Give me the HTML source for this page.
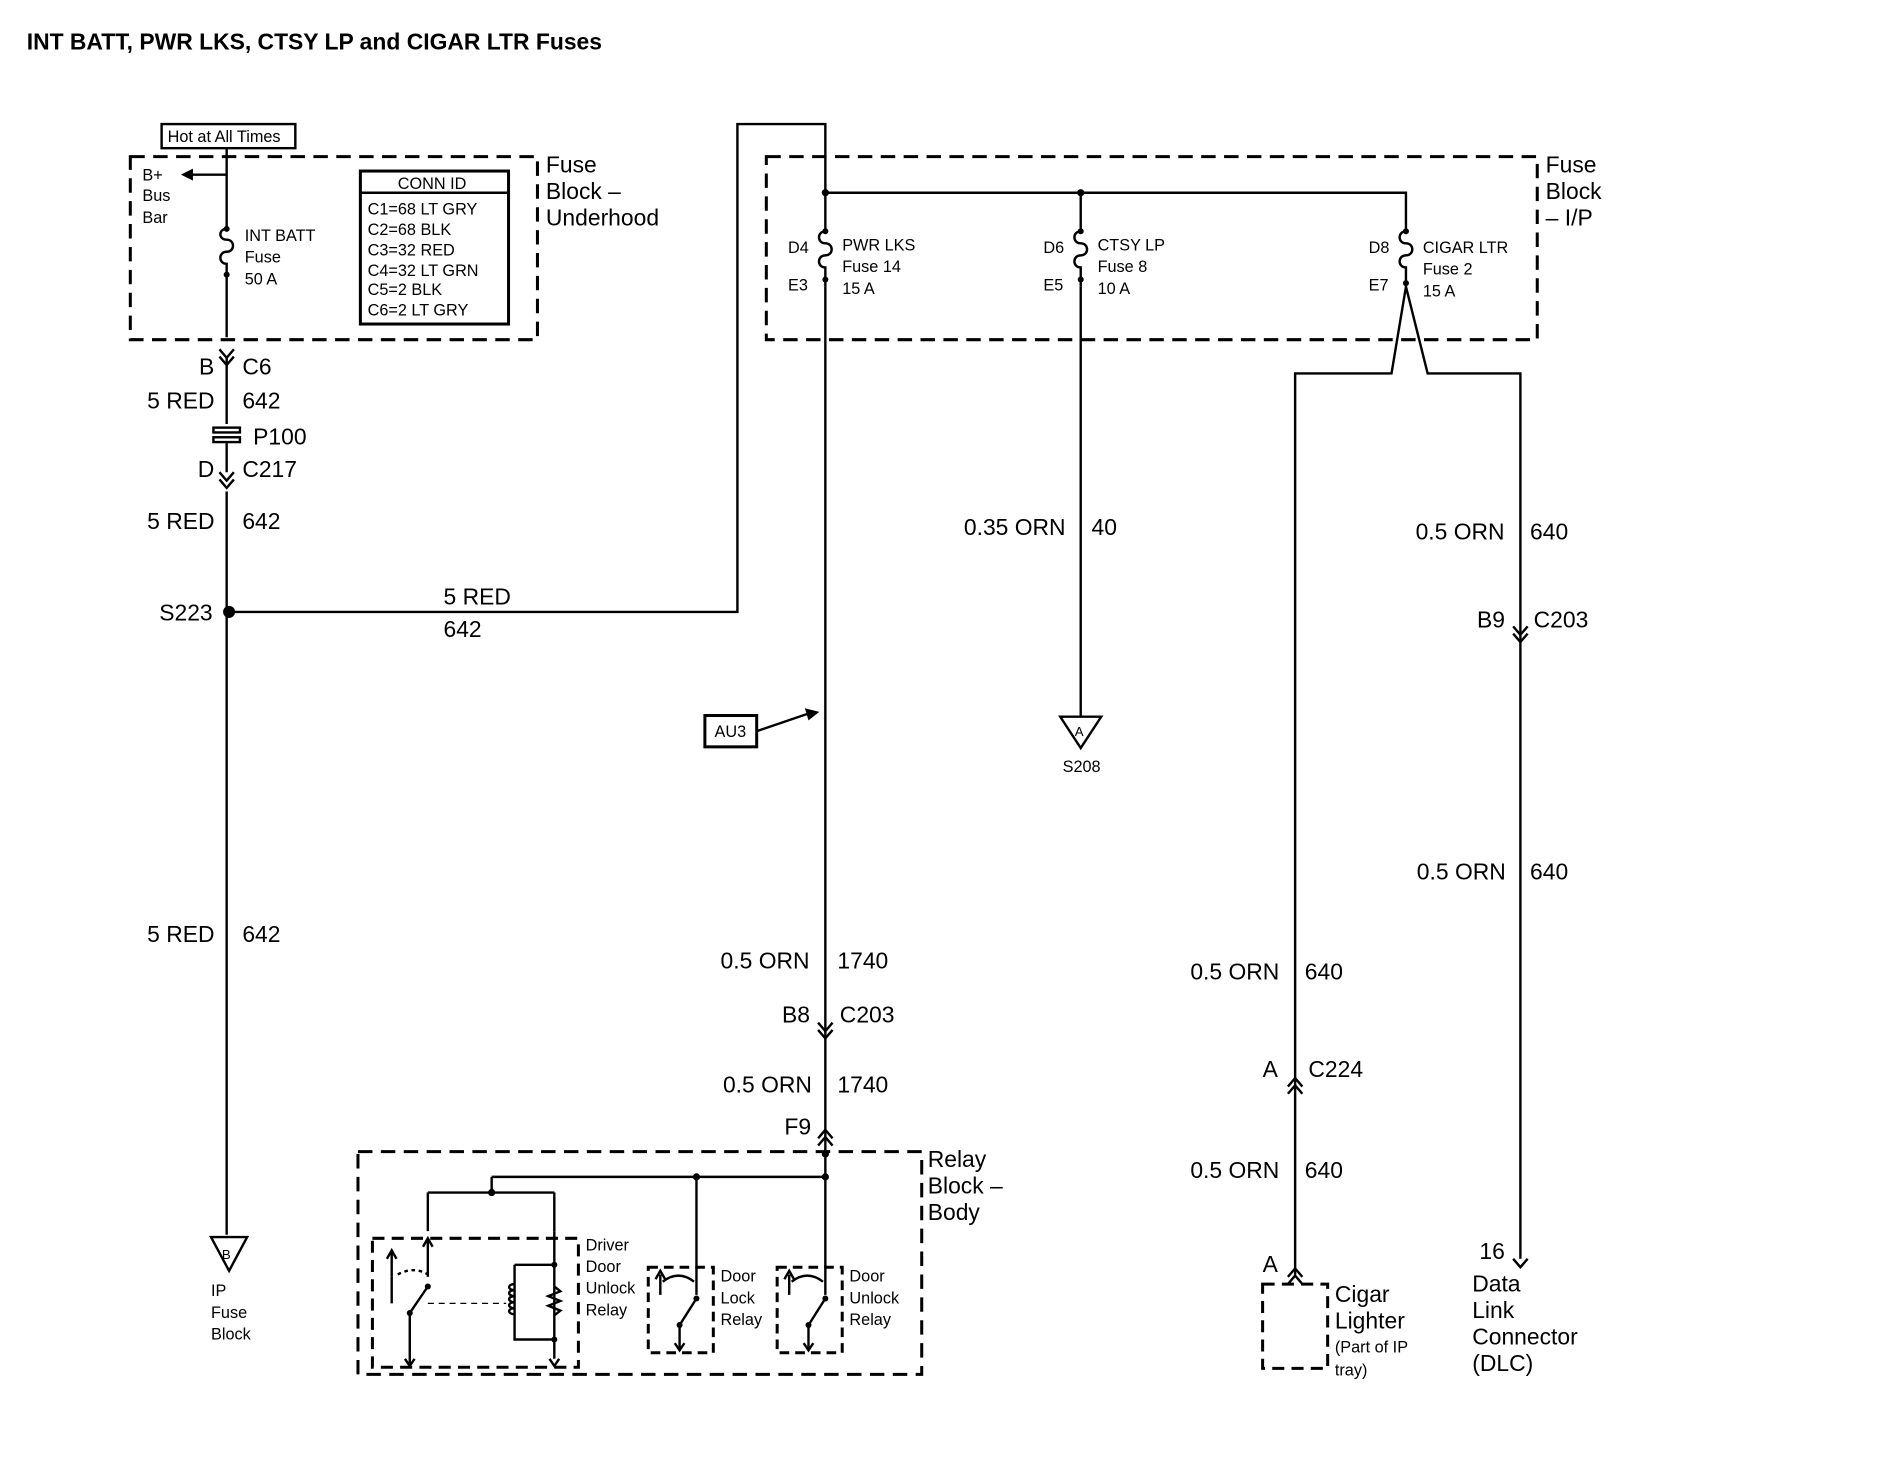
<!DOCTYPE html>
<html><head><meta charset="utf-8"><style>
html,body{margin:0;padding:0;background:#fff}
svg{display:block}
text{font-family:"Liberation Sans",Arial,sans-serif;fill:#000}
.t{font-size:19px}
.s{font-size:13.5px}
.x{font-size:11px}
</style></head><body>
<svg width="1888" height="1472" viewBox="0 0 1567 1222" xmlns="http://www.w3.org/2000/svg">
<g fill="none" stroke="#000" stroke-width="2">
<rect x="108" y="130" width="338" height="152" stroke-dasharray="12,7" stroke-width="2.5"/>
<rect x="636" y="130" width="640" height="152" stroke-dasharray="12,7" stroke-width="2.5"/>
<rect x="297" y="956" width="468" height="185" stroke-dasharray="12,7" stroke-width="2.5"/>
<rect x="309" y="1028" width="171" height="107" stroke-dasharray="10,6" stroke-width="2.5"/>
<rect x="538" y="1052" width="54" height="71" stroke-dasharray="8,5" stroke-width="2.5"/>
<rect x="645" y="1052" width="54" height="71" stroke-dasharray="8,5" stroke-width="2.5"/>
<rect x="1048" y="1066" width="54" height="70" stroke-dasharray="10,6" stroke-width="2.5"/>
<rect x="134" y="103" width="111" height="20"/>
<rect x="299" y="142" width="123" height="127" stroke-width="2.5"/>
<line x1="299" y1="160" x2="422" y2="160"/>
<rect x="585" y="594" width="43" height="26" stroke-width="2.5"/>
<path d="M188 123 V190 M188 228 V280 M188 296 V352 M188 368 V392 M188 408 V1025"/>
<path d="M188 145 H158"/>
<path d="M190 508 H612 V103 H685 V160"/>
<path d="M685 160 H1167 V192 M897 160 V192 M685 160 V192"/>
<path d="M685 238 V945 M897 238 V595"/>
<path d="M1167 238 L1155 310 H1075 V1058 M1167 238 L1185 310 H1262 V1045"/>
<path d="M685 945 V1052 M408 977 H685 M408 977 V990 M355 990 H460 M355 990 V1022 M460 990 V1022 M578 977 V1052"/>
<path d="M628 607 L672 592"/>
<path d="M175 1027 H205 L190 1055 Z"/>
<path d="M880 595 H914 L897 621 Z"/>
<path d="M182 290 L188 297 L194 290 M182 296 L188 303 L194 296"/>
<path d="M182 392 L188 399 L194 392 M182 398 L188 405 L194 398"/>
<path d="M679 849 L685 856 L691 849 M679 855 L685 862 L691 855"/>
<path d="M679 945 L685 938 L691 945 M679 951 L685 944 L691 951"/>
<path d="M1256 520 L1262 527 L1268 520 M1256 526 L1262 533 L1268 526"/>
<path d="M1069 902 L1075 895 L1081 902 M1069 908 L1075 901 L1081 908"/>
<path d="M1069 1060 L1075 1053 L1081 1060 M1069 1066 L1075 1059 L1081 1066"/>
<path d="M1256 1045 L1262 1052 L1268 1045"/>
<rect x="177" y="355" width="22" height="4" fill="#fff"/><rect x="177" y="363" width="22" height="4" fill="#fff"/>
<path d="M188 190 c-7,0 -7,9 0,9 c7,0 7,10 0,10 c-7,0 -7,10 0,10 V228"/>
<path d="M685 192 c-7,0 -7,10 0,10 c7,0 7,10 0,10 c-7,0 -7,10 0,10 V238"/>
<path d="M897 192 c-7,0 -7,10 0,10 c7,0 7,10 0,10 c-7,0 -7,10 0,10 V238"/>
<path d="M1167 192 c-7,0 -7,10 0,10 c7,0 7,10 0,10 c-7,0 -7,10 0,10 V238"/>
<path d="M325 1060 V1040 M321 1045 L325 1038 L329 1045 M355 1060 V1030 M351 1035 L355 1028 L359 1035"/>
<path d="M340 1132 V1090 L355 1068 M325 1060 V1082 M336 1128 L340 1134 L344 1128"/>
<path d="M330 1058 Q345 1050 358 1060" stroke-dasharray="3,3"/>
<path d="M355 1082 H420" stroke-dasharray="5,4" stroke-width="1"/>
<path d="M460 1022 V1128 M427 1050 H460 M427 1050 V1112 H460 M456 1128 L460 1134 L464 1128"/>
<path d="M427 1066 c-6,0 -6,5 0,5 c-6,0 -6,5 0,5 c-6,0 -6,5 0,5 c-6,0 -6,5 0,5 c-6,0 -6,5 0,5"/>
<path d="M460 1068 l5,4 l-10,4 l10,4 l-10,4 l10,4 l-5,4"/>
<path d="M548 1075 V1058 M544 1062 L548 1055 L552 1062 M578 1052 V1075 M564 1120 V1100 L578 1078 M560 1115 L564 1121 L568 1115 M550 1064 Q563 1054 576 1064" />
<path d="M655 1075 V1058 M651 1062 L655 1055 L659 1062 M685 1052 V1075 M671 1120 V1100 L685 1078 M667 1115 L671 1121 L675 1115 M657 1064 Q670 1054 683 1064"/>
</g>
<g fill="#000">
<path d="M150 145 L160 140 L160 150 Z"/>
<circle cx="190" cy="508" r="5"/>
<circle cx="685" cy="160" r="3"/><circle cx="897" cy="160" r="3"/>
<circle cx="408" cy="990" r="3"/><circle cx="578" cy="977" r="3"/><circle cx="685" cy="977" r="3"/>
<circle cx="685" cy="958" r="3"/>
<circle cx="188" cy="190" r="2.5"/><circle cx="188" cy="228" r="2.5"/>
<circle cx="685" cy="192" r="2.5"/><circle cx="685" cy="232" r="2.5"/>
<circle cx="897" cy="192" r="2.5"/><circle cx="897" cy="232" r="2.5"/>
<circle cx="1167" cy="192" r="2.5"/><circle cx="1167" cy="235" r="2.5"/>
<path d="M680 591 L668 588 L671 598 Z"/>
<circle cx="355" cy="1068" r="2.5"/><circle cx="340" cy="1090" r="2.5"/><circle cx="460" cy="1050" r="2.5"/><circle cx="460" cy="1112" r="2.5"/>
<circle cx="578" cy="1078" r="2.5"/><circle cx="564" cy="1100" r="2.5"/><circle cx="685" cy="1078" r="2.5"/><circle cx="671" cy="1100" r="2.5"/>
</g>
<text x="22" y="41" style="font-size:19px;font-weight:bold">INT BATT, PWR LKS, CTSY LP and CIGAR LTR Fuses</text>
<text x="139" y="118" class="s">Hot at All Times</text>
<text x="118" y="150" class="s">B+</text><text x="118" y="167" class="s">Bus</text><text x="118" y="185" class="s">Bar</text>
<text x="203" y="200" class="s">INT BATT</text><text x="203" y="218" class="s">Fuse</text><text x="203" y="236" class="s">50 A</text>
<text x="330" y="157" class="s">CONN ID</text>
<text x="305" y="178" class="s">C1=68 LT GRY</text><text x="305" y="195" class="s">C2=68 BLK</text><text x="305" y="212" class="s">C3=32 RED</text>
<text x="305" y="229" class="s">C4=32 LT GRN</text><text x="305" y="245" class="s">C5=2 BLK</text><text x="305" y="262" class="s">C6=2 LT GRY</text>
<text x="453" y="143" class="t">Fuse</text><text x="453" y="165" class="t">Block –</text><text x="453" y="187" class="t">Underhood</text>
<text x="165" y="311" class="t">B</text><text x="201" y="311" class="t">C6</text>
<text x="122" y="339" class="t">5 RED</text><text x="201" y="339" class="t">642</text>
<text x="210" y="369" class="t">P100</text>
<text x="164" y="396" class="t">D</text><text x="201" y="396" class="t">C217</text>
<text x="122" y="439" class="t">5 RED</text><text x="201" y="439" class="t">642</text>
<text x="132" y="515" class="t">S223</text>
<text x="368" y="502" class="t">5 RED</text><text x="368" y="529" class="t">642</text>
<text x="122" y="782" class="t">5 RED</text><text x="201" y="782" class="t">642</text>
<text x="184" y="1045" class="x">B</text>
<text x="175" y="1076" class="s">IP</text><text x="175" y="1094" class="s">Fuse</text><text x="175" y="1112" class="s">Block</text>
<text x="654" y="210" class="s">D4</text><text x="654" y="241" class="s">E3</text>
<text x="699" y="208" class="s">PWR LKS</text><text x="699" y="226" class="s">Fuse 14</text><text x="699" y="244" class="s">15 A</text>
<text x="866" y="210" class="s">D6</text><text x="866" y="241" class="s">E5</text>
<text x="911" y="208" class="s">CTSY LP</text><text x="911" y="226" class="s">Fuse 8</text><text x="911" y="244" class="s">10 A</text>
<text x="1136" y="210" class="s">D8</text><text x="1136" y="241" class="s">E7</text>
<text x="1181" y="210" class="s">CIGAR LTR</text><text x="1181" y="228" class="s">Fuse 2</text><text x="1181" y="246" class="s">15 A</text>
<text x="1283" y="143" class="t">Fuse</text><text x="1283" y="165" class="t">Block</text><text x="1283" y="187" class="t">– I/P</text>
<text x="800" y="444" class="t">0.35 ORN</text><text x="906" y="444" class="t">40</text>
<text x="892" y="611" class="x">A</text><text x="882" y="641" class="s">S208</text>
<text x="593" y="612" class="s">AU3</text>
<text x="1175" y="448" class="t">0.5 ORN</text><text x="1270" y="448" class="t">640</text>
<text x="1226" y="521" class="t">B9</text><text x="1273" y="521" class="t">C203</text>
<text x="1176" y="730" class="t">0.5 ORN</text><text x="1270" y="730" class="t">640</text>
<text x="598" y="804" class="t">0.5 ORN</text><text x="695" y="804" class="t">1740</text>
<text x="649" y="849" class="t">B8</text><text x="697" y="849" class="t">C203</text>
<text x="600" y="907" class="t">0.5 ORN</text><text x="695" y="907" class="t">1740</text>
<text x="651" y="942" class="t">F9</text>
<text x="988" y="813" class="t">0.5 ORN</text><text x="1083" y="813" class="t">640</text>
<text x="1048" y="894" class="t">A</text><text x="1086" y="894" class="t">C224</text>
<text x="988" y="978" class="t">0.5 ORN</text><text x="1083" y="978" class="t">640</text>
<text x="1048" y="1056" class="t">A</text>
<text x="1108" y="1081" class="t">Cigar</text><text x="1108" y="1103" class="t">Lighter</text>
<text x="1108" y="1123" class="s">(Part of IP</text><text x="1108" y="1142" class="s">tray)</text>
<text x="1228" y="1045" class="t">16</text>
<text x="1222" y="1072" class="t">Data</text><text x="1222" y="1094" class="t">Link</text><text x="1222" y="1116" class="t">Connector</text><text x="1222" y="1138" class="t">(DLC)</text>
<text x="770" y="969" class="t">Relay</text><text x="770" y="991" class="t">Block –</text><text x="770" y="1013" class="t">Body</text>
<text x="486" y="1038" class="s">Driver</text><text x="486" y="1056" class="s">Door</text><text x="486" y="1074" class="s">Unlock</text><text x="486" y="1092" class="s">Relay</text>
<text x="598" y="1064" class="s">Door</text><text x="598" y="1082" class="s">Lock</text><text x="598" y="1100" class="s">Relay</text>
<text x="705" y="1064" class="s">Door</text><text x="705" y="1082" class="s">Unlock</text><text x="705" y="1100" class="s">Relay</text>
</svg>
</body></html>
